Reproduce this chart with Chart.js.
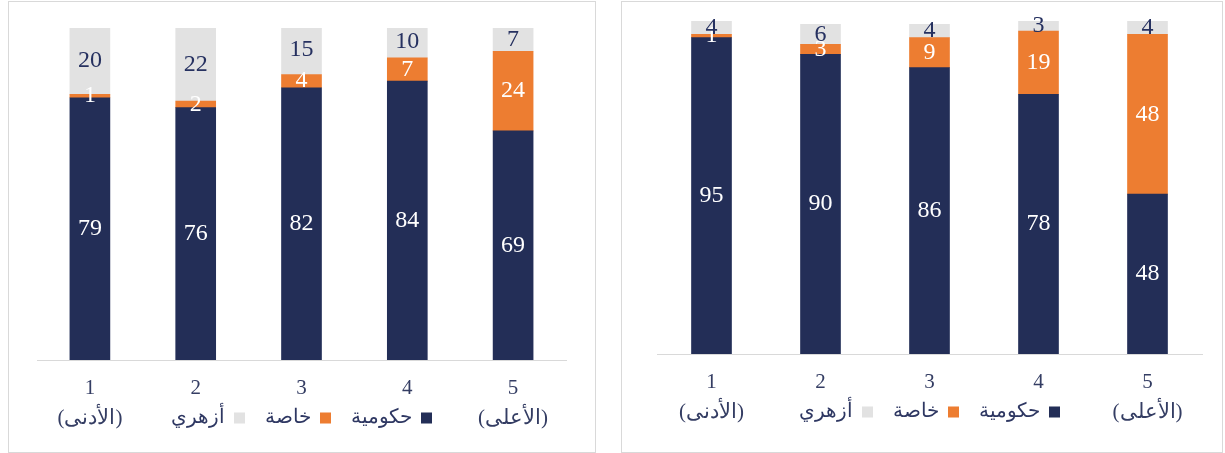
<!DOCTYPE html>
<html lang="ar">
<head>
<meta charset="utf-8">
<script src="https://cdn.jsdelivr.net/npm/chart.js@4.4.0/dist/chart.umd.min.js"></script>
<style>
  html, body { margin: 0; padding: 0; background: #fff; }
  .panel { position: absolute; top: 1px; height: 452px; box-sizing: border-box; border: 1px solid #d9d9d9; }
  #leftPanel { left: 8px; width: 588px; }
  #rightPanel { left: 621px; width: 602px; }
  canvas { position: absolute; left: 0; top: 0; }
</style>
</head>
<body>
<div class="panel" id="leftPanel"><canvas id="leftChart" width="586" height="450"></canvas></div>
<div class="panel" id="rightPanel"><canvas id="rightChart" width="600" height="450"></canvas></div>
<script>
const quintiles = [['1', '(الأدنى)'], '2', '3', '4', ['5', '(الأعلى)']];
const seriesNames = ['حكومية', 'خاصة', 'أزهري'];
const seriesColors = ['#232E57', '#ED7D31', '#E2E2E2'];
const labelColors = ['#ffffff', '#ffffff', '#263160'];

// left panel
const leftGov = [79, 76, 82, 84, 69];
const leftPrivate = [1, 2, 4, 7, 24];
const leftAzhar = [20, 22, 15, 10, 7];

// right panel
const rightGov = [95, 90, 86, 78, 48];
const rightPrivate = [1, 3, 9, 19, 48];
const rightAzhar = [4, 6, 4, 3, 4];

const serif = '"Times New Roman", "Liberation Serif", "DejaVu Serif", serif';

// value written in the middle of each stacked segment
const segmentLabels = {
  id: 'segmentLabels',
  afterDatasetsDraw(chart) {
    const ctx = chart.ctx;
    ctx.save();
    ctx.font = '24px ' + serif;
    ctx.textAlign = 'center';
    ctx.textBaseline = 'middle';
    chart.data.datasets.forEach((ds, i) => {
      ctx.fillStyle = labelColors[i];
      chart.getDatasetMeta(i).data.forEach((bar, j) => {
        const {x, y, base} = bar.getProps(['x', 'y', 'base'], true);
        ctx.fillText(String(ds.data[j]), x, (y + base) / 2);
      });
    });
    ctx.restore();
  }
};

// legend sits on the second row of the category labels, right to left
const bottomLegend = {
  id: 'bottomLegend',
  afterDraw(chart) {
    const ctx = chart.ctx;
    const area = chart.chartArea;
    const box = 11, gapIn = 9, gapOut = 20;
    ctx.save();
    ctx.font = '20px ' + serif;
    const widths = chart.data.datasets.map(ds => ctx.measureText(ds.label).width);
    const total = widths.reduce((a, w) => a + w + gapIn + box, 0) + gapOut * (widths.length - 1);
    let x = (area.left + area.right) / 2 + total / 2;
    const y = area.bottom + 58;
    ctx.textBaseline = 'middle';
    ctx.textAlign = 'right';
    chart.data.datasets.forEach((ds, i) => {
      ctx.fillStyle = ds.backgroundColor;
      ctx.fillRect(x - box, y - box / 2, box, box);
      ctx.fillStyle = '#2E3762';
      ctx.fillText(ds.label, x - box - gapIn, y);
      x -= box + gapIn + widths[i] + gapOut;
    });
    ctx.restore();
  }
};

function makeChart(id, series, pad) {
  return new Chart(document.getElementById(id), {
    type: 'bar',
    data: {
      labels: quintiles,
      datasets: series.map((d, i) => ({
        label: seriesNames[i],
        data: d,
        backgroundColor: seriesColors[i],
        barThickness: 40
      }))
    },
    options: {
      responsive: false,
      animation: false,
      devicePixelRatio: 1,
      layout: { padding: { left: pad.left, right: pad.right, top: pad.top, bottom: 0 } },
      plugins: { legend: { display: false }, tooltip: { enabled: false } },
      scales: {
        x: {
          stacked: true,
          grid: { display: false, drawTicks: false },
          border: { display: true, color: '#D9D9D9', width: 1 },
          ticks: { padding: 13, color: '#343D63', font: { family: serif, size: 21, lineHeight: 30 / 21 } },
          afterFit: s => { s.height = pad.axis; }
        },
        y: { stacked: true, display: false, min: 0, max: 100 }
      }
    },
    plugins: [segmentLabels, bottomLegend]
  });
}

makeChart('leftChart', [leftGov, leftPrivate, leftAzhar], { left: 28, right: 29, top: 26, axis: 92 });
makeChart('rightChart', [rightGov, rightPrivate, rightAzhar], { left: 35, right: 20, top: 19, axis: 98 });
</script>
</body>
</html>
